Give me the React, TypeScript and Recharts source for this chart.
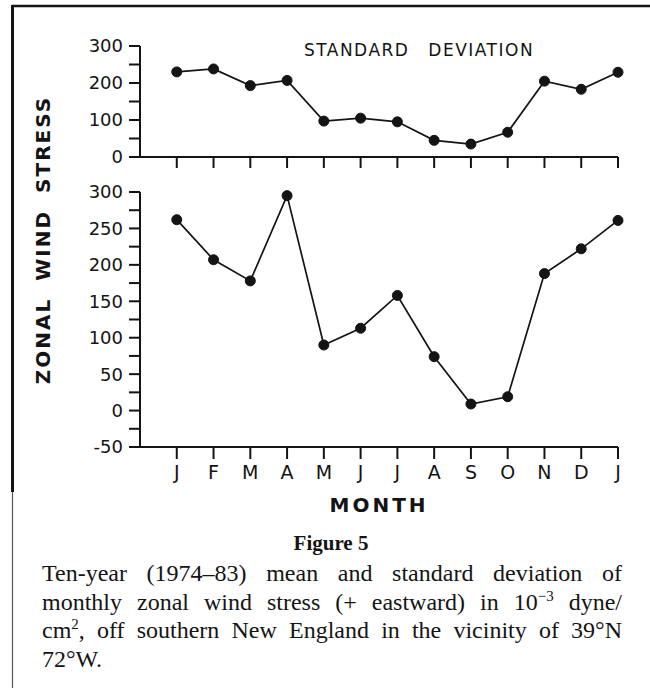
import React from 'react';
import { LineChart, Line, XAxis, YAxis } from 'recharts';

// ---- data ----
const months = ['J', 'F', 'M', 'A', 'M', 'J', 'J', 'A', 'S', 'O', 'N', 'D', 'J'];
const stdDev = [230, 238, 193, 207, 97, 105, 95, 45, 35, 67, 205, 183, 229];
const meanStress = [262, 207, 178, 295, 90, 113, 158, 74, 9, 19, 188, 222, 261];
const stdTicks = [0, 50, 100, 150, 200, 250, 300];
const meanTicks = [-50, -25, 0, 25, 50, 75, 100, 125, 150, 175, 200, 225, 250, 275, 300];

const data = months.map((m, i) => ({ pos: i + 1, month: m, std: stdDev[i], mean: meanStress[i] }));
const xTicks = data.map((d) => d.pos);

const SANS = '"DejaVu Sans", sans-serif';
const SERIF = '"Liberation Serif", "Times New Roman", serif';
const INK = '#141414';

const makeYTick = (step: number) => (props: any) => {
  const { x, y, payload } = props;
  if (payload.value % step !== 0) return <g />;
  return (
    <text x={x} y={y} dy="0.36em" textAnchor="end" fontSize={18} fontFamily={SANS} fill={INK}>
      {payload.value}
    </text>
  );
};

const MonthTick = (props: any) => {
  const { x, y, payload } = props;
  const label = months[payload.value - 1] ?? '';
  return (
    <text x={x} y={y} dy="0.74em" textAnchor="middle" fontSize={19} fontFamily={SANS} fill={INK}>
      {label}
    </text>
  );
};

const axisLine = { stroke: INK, strokeWidth: 2 };
const tickLine = { stroke: INK, strokeWidth: 2 };
const dot = { r: 5, fill: INK, stroke: INK, strokeWidth: 1 };

const centered = (x: number, y: number): React.CSSProperties => ({
  position: 'absolute',
  left: x,
  top: y,
  transform: 'translate(-50%, -50%)',
  whiteSpace: 'nowrap',
});

export default function App() {
  return (
    <div
      style={{
        position: 'absolute',
        left: 0,
        top: 0,
        width: 650,
        height: 695,
        background: '#fff',
        overflow: 'hidden',
        color: INK,
      }}
    >
      {/* frame */}
      <svg width={650} height={695} style={{ position: 'absolute', left: 0, top: 0 }}>
        <line x1={12} y1={6} x2={650} y2={6} stroke={INK} strokeWidth={2.5} />
        <line x1={12.5} y1={5} x2={12.5} y2={492} stroke={INK} strokeWidth={3} />
        <line x1={12.5} y1={492} x2={12.5} y2={688} stroke="#555" strokeWidth={1.2} />
      </svg>

      {/* top panel: standard deviation */}
      <div style={{ position: 'absolute', left: 0, top: 0 }}>
        <LineChart width={650} height={187} data={data} margin={{ top: 46, right: 32, bottom: 0, left: 40 }}>
          <XAxis
            dataKey="pos"
            type="number"
            domain={[0, 13]}
            ticks={xTicks}
            height={30}
            axisLine={axisLine}
            tickLine={tickLine}
            tickSize={11}
            tickFormatter={() => ''}
          />
          <YAxis
            type="number"
            domain={[0, 300]}
            ticks={stdTicks}
            width={100}
            axisLine={axisLine}
            tickLine={tickLine}
            tickSize={11}
            tickMargin={6}
            interval={0}
            tick={makeYTick(100)}
          />
          <Line
            dataKey="std"
            type="linear"
            stroke={INK}
            strokeWidth={1.7}
            dot={dot}
            isAnimationActive={false}
          />
        </LineChart>
      </div>

      {/* bottom panel: mean */}
      <div style={{ position: 'absolute', left: 0, top: 150 }}>
        <LineChart width={650} height={337} data={data} margin={{ top: 42, right: 32, bottom: 0, left: 40 }}>
          <XAxis
            dataKey="pos"
            type="number"
            domain={[0, 13]}
            ticks={xTicks}
            height={40}
            axisLine={axisLine}
            tickLine={tickLine}
            tickSize={12}
            tickMargin={6}
            interval={0}
            tick={<MonthTick />}
          />
          <YAxis
            type="number"
            domain={[-50, 300]}
            ticks={meanTicks}
            width={100}
            axisLine={axisLine}
            tickLine={tickLine}
            tickSize={11}
            tickMargin={6}
            interval={0}
            tick={makeYTick(50)}
          />
          <Line
            dataKey="mean"
            type="linear"
            stroke={INK}
            strokeWidth={1.7}
            dot={dot}
            isAnimationActive={false}
          />
        </LineChart>
      </div>

      {/* panel title */}
      <div style={{ ...centered(419, 50), fontFamily: SANS, fontSize: 17, letterSpacing: 1.5, wordSpacing: 12 }}>
        STANDARD DEVIATION
      </div>

      {/* y-axis title */}
      <div
        style={{
          ...centered(43, 240),
          transform: 'translate(-50%, -50%) rotate(-90deg)',
          fontFamily: SANS,
          fontWeight: 700,
          fontSize: 20,
          letterSpacing: 2,
          wordSpacing: 8,
        }}
      >
        ZONAL WIND STRESS
      </div>

      {/* x-axis title */}
      <div style={{ ...centered(379, 505), fontFamily: SANS, fontWeight: 700, fontSize: 20, letterSpacing: 3 }}>
        MONTH
      </div>

      {/* caption */}
      <div style={{ ...centered(331, 543), fontFamily: SERIF, fontWeight: 700, fontSize: 21 }}>Figure 5</div>
      <div
        style={{
          position: 'absolute',
          left: 42,
          top: 559,
          width: 580,
          fontFamily: SERIF,
          fontSize: 24,
          lineHeight: '28.5px',
        }}
      >
        <div style={{ textAlign: 'justify', textAlignLast: 'justify' }}>
          Ten-year (1974–83) mean and standard deviation of
        </div>
        <div style={{ textAlign: 'justify', textAlignLast: 'justify' }}>
          monthly zonal wind stress (+ eastward) in 10
          <span style={{ fontSize: 15, verticalAlign: 'super', lineHeight: 0 }}>−3</span> dyne/
        </div>
        <div style={{ textAlign: 'justify', textAlignLast: 'justify' }}>
          cm<span style={{ fontSize: 15, verticalAlign: 'super', lineHeight: 0 }}>2</span>, off southern New
          England in the vicinity of 39°N
        </div>
        <div>72°W.</div>
      </div>
    </div>
  );
}
